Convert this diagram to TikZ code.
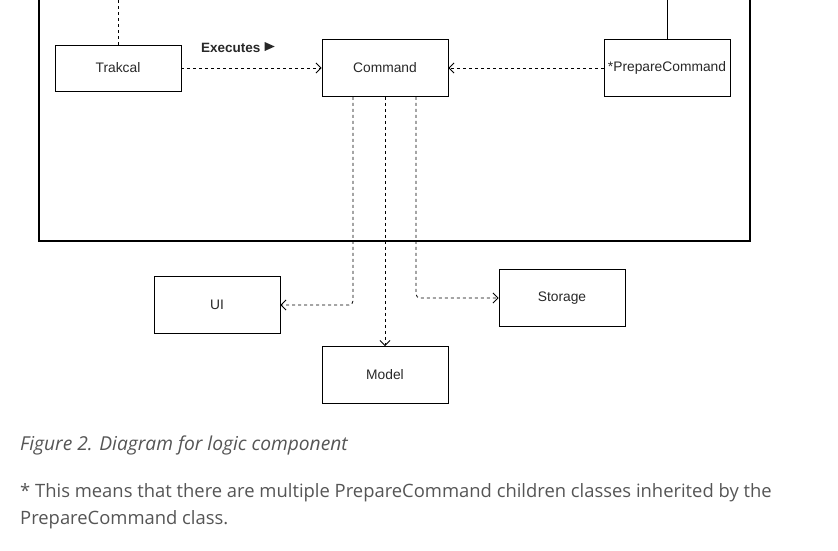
\documentclass[tikz,border=0pt]{standalone}
\usepackage{fontspec}
\setmainfont{Liberation Sans}
\newfontfamily\notefont{Open Sans}
\usetikzlibrary{positioning, arrows.meta, calc}
\definecolor{boxText}{RGB}{40,40,40}
\definecolor{noteGray}{RGB}{85,85,85}

\begin{document}
\begin{tikzpicture}[
  x=1pt, y=-1pt,
  cls/.style={draw, line width=0.9pt, minimum width=126pt, minimum height=57pt,
    inner sep=0pt, font=\fontsize{13.8}{15}\selectfont, text=boxText},
  dep/.style={dash pattern=on 3pt off 3pt, line width=0.8pt,
    -{Straight Barb[length=5pt, width=10pt, line width=0.9pt]}},
  note/.style={anchor=base west, font=\notefont\fontsize{18.4}{27}\selectfont,
    text=noteGray, inner sep=0pt},
]
  \useasboundingbox (0,0) rectangle (838,550);

  % logic component frame (top edge is off the page)
  \draw[line width=1.1pt] (39,0) -- (39,241) -- (750,241) -- (750,0);

  \node[cls, minimum height=46pt] (trak) at (118,68) {Trakcal};
  \node[cls] (cmd) at (385,68) {Command};
  \node[cls] (prep) at (667,68) {*PrepareCommand};
  \node[cls] (ui) at (217,305) {UI};
  \node[cls] (storage) at (562,298) {Storage};
  \node[cls] (model) at (385,375) {Model};

  \coordinate (trakUp) at (118,0);
  \coordinate (prepUp) at (667,0);
  \draw[dash pattern=on 3pt off 3pt, line width=0.8pt] (trak) -- (trakUp);
  \draw[line width=0.9pt] (prep) -- (prepUp);

  \draw[dep] (trak) -- (cmd);
  \node[font=\bfseries\fontsize{13.5}{15}\selectfont, text=boxText, anchor=base west,
    inner sep=0pt] (exec) at (201,52) {Executes};
  \fill[boxText] ($(exec.base east)+(4,-1)$) -- ++(0,-9) -- ++(10,4.5) -- cycle;
  \draw[dep] (prep) -- (cmd);

  \draw[dep, rounded corners=4pt] ([xshift=-32pt]cmd.south) |- (ui);
  \draw[dep] (cmd) -- (model);
  \draw[dep, rounded corners=4pt] ([xshift=31pt]cmd.south) |- (storage);

  \node[note, font=\notefont\itshape\fontsize{19.2}{27}\selectfont] (caption) at (20,450)
    {Figure 2. Diagram for logic component};
  \node[note] (remark) at (20,497)
    {* This means that there are multiple PrepareCommand children classes inherited by the};
  \node[note] (remark2) at (20,524) {PrepareCommand class.};
\end{tikzpicture}
\end{document}
